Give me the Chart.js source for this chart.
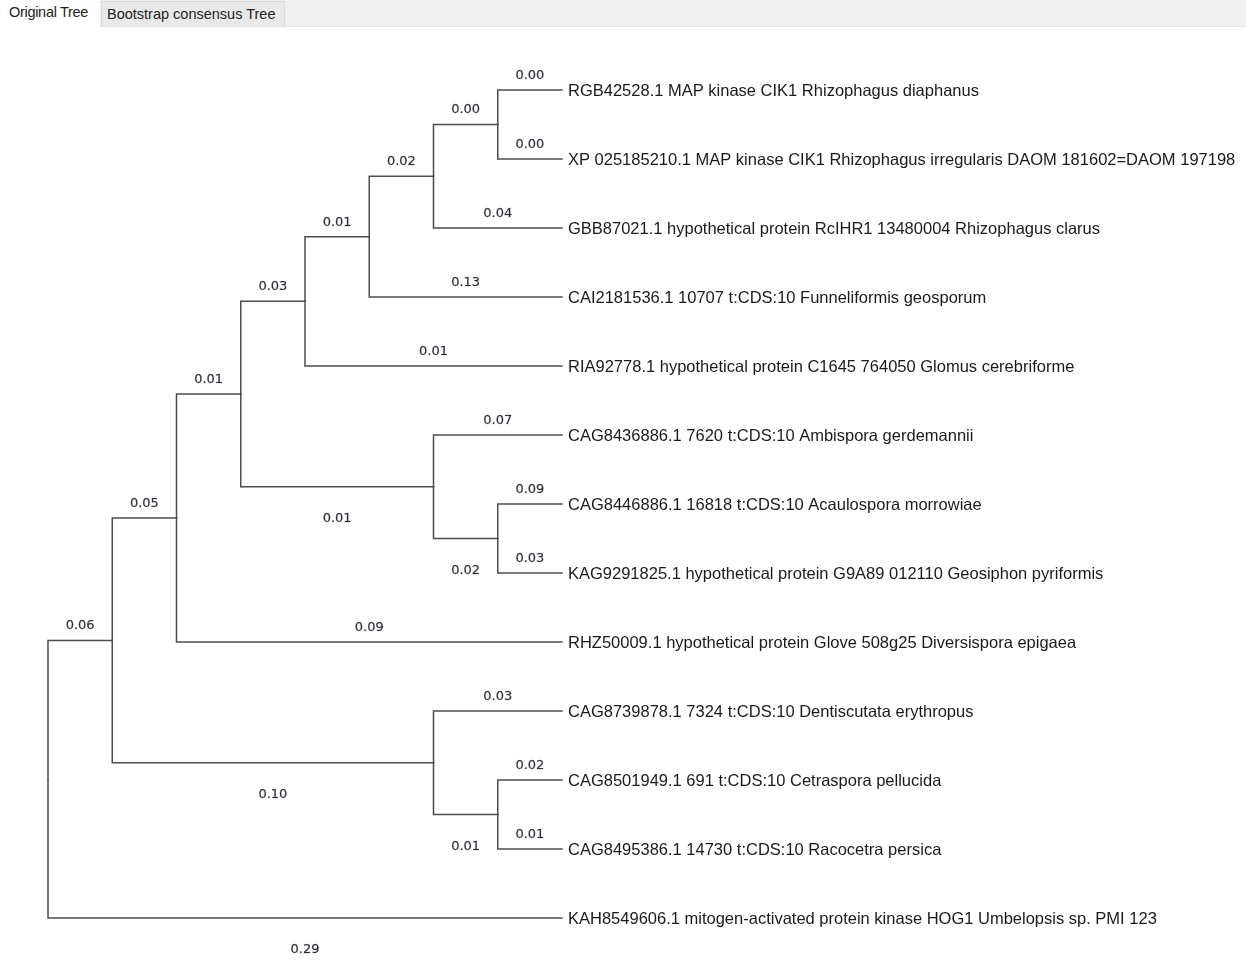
<!DOCTYPE html>
<html>
<head>
<meta charset="utf-8">
<script src="https://cdn.jsdelivr.net/npm/chart.js@4.4.1/dist/chart.umd.min.js"></script>
<style>
  html,body{margin:0;padding:0;background:#fff;}
  #wrap{position:relative;width:1246px;height:973px;overflow:hidden;}
  #tabs{position:absolute;left:0;top:0;width:1246px;height:26px;background:#f0f0f0;border-bottom:1px solid #e2e2e2;z-index:2;font-family:"Liberation Sans",Arial,sans-serif;font-size:14.5px;color:#222;}
  #tab1{position:absolute;left:0;top:0;width:100px;height:27px;background:#fff;}
  #tab1 span{position:absolute;left:9px;top:4px;letter-spacing:-0.3px;}
  #tab2{position:absolute;left:101px;top:1px;width:182px;height:24px;background:#e9e9e9;border:1px solid #d8d8d8;border-bottom:none;}
  #tab2 span{position:absolute;left:5px;top:4px;}
  canvas{position:absolute;left:0;top:0;}
</style>
</head>
<body>
<div id="wrap">
  <div id="tabs">
    <div id="tab1"><span>Original Tree</span></div>
    <div id="tab2"><span>Bootstrap consensus Tree</span></div>
  </div>
  <canvas id="c" width="1246" height="973"></canvas>
</div>
<script>
// ---- DATA ----
// Tip (leaf) labels, in drawing order top to bottom (node ids 0..12)
const taxa = [
  "RGB42528.1 MAP kinase CIK1 Rhizophagus diaphanus",
  "XP 025185210.1 MAP kinase CIK1 Rhizophagus irregularis DAOM 181602=DAOM 197198",
  "GBB87021.1 hypothetical protein RcIHR1 13480004 Rhizophagus clarus",
  "CAI2181536.1 10707 t:CDS:10 Funneliformis geosporum",
  "RIA92778.1 hypothetical protein C1645 764050 Glomus cerebriforme",
  "CAG8436886.1 7620 t:CDS:10 Ambispora gerdemannii",
  "CAG8446886.1 16818 t:CDS:10 Acaulospora morrowiae",
  "KAG9291825.1 hypothetical protein G9A89 012110 Geosiphon pyriformis",
  "RHZ50009.1 hypothetical protein Glove 508g25 Diversispora epigaea",
  "CAG8739878.1 7324 t:CDS:10 Dentiscutata erythropus",
  "CAG8501949.1 691 t:CDS:10 Cetraspora pellucida",
  "CAG8495386.1 14730 t:CDS:10 Racocetra persica",
  "KAH8549606.1 mitogen-activated protein kinase HOG1 Umbelopsis sp. PMI 123"
];
// Internal nodes (ids 13..24): their two children
const cladeChildren = [
  [0, 1],    // 13
  [13, 2],   // 14
  [14, 3],   // 15
  [15, 4],   // 16
  [6, 7],    // 17
  [5, 17],   // 18
  [16, 18],  // 19
  [19, 8],   // 20
  [10, 11],  // 21
  [9, 21],   // 22
  [20, 22],  // 23
  [23, 12]   // 24 root
];
// Branch length labels per node id (0..23); root has none
const branchLengths = [
  "0.00","0.00","0.04","0.13","0.01","0.07","0.09","0.03","0.09","0.03","0.02","0.01","0.29",
  "0.00","0.02","0.01","0.03","0.02","0.01","0.01","0.05","0.01","0.10","0.06"
];
// ---- STYLE ----
const labelBelowNodes = [12, 17, 18, 21, 22];
const LINE_COLOR = "#4d4d4d";
const TIP_FONT = '16.5px "Liberation Sans", Arial, sans-serif';
const BL_FONT = '13px "DejaVu Sans", Tahoma, sans-serif';

// ---- Build tree geometry from topology (cladogram layout) ----
const nTips = taxa.length;
const nNodes = nTips + cladeChildren.length;
const rootId = nNodes - 1;
const parent = new Array(nNodes).fill(-1);
const height = new Array(nNodes).fill(0);
const ypos = new Array(nNodes).fill(0);
for (let i = 0; i < nTips; i++) ypos[i] = i;
cladeChildren.forEach((ch, k) => {
  const id = nTips + k;
  ch.forEach(c => parent[c] = id);
  height[id] = Math.max(...ch.map(c => height[c])) + 1;
  ypos[id] = ch.reduce((s, c) => s + ypos[c], 0) / ch.length;
});
const maxH = height[rootId];
const xpos = height.map(h => maxH - h);

const datasets = [];
for (let id = 0; id < nNodes; id++) {
  if (id === rootId) continue;
  const p = parent[id];
  datasets.push({
    data: [{x: xpos[p], y: ypos[p]}, {x: xpos[p], y: ypos[id]}, {x: xpos[id], y: ypos[id]}],
    showLine: true, borderColor: LINE_COLOR, borderWidth: 1.5, pointRadius: 0,
    tension: 0, fill: false, clip: false, borderCapStyle: 'square', borderJoinStyle: 'miter'
  });
}

const labelPlugin = {
  id: 'treeLabels',
  afterDatasetsDraw(chart) {
    const ctx = chart.ctx, xs = chart.scales.x, ys = chart.scales.y;
    ctx.save();
    // tip labels
    ctx.font = TIP_FONT; ctx.fillStyle = "#1a1a1a"; ctx.textAlign = "left"; ctx.textBaseline = "middle";
    for (let i = 0; i < nTips; i++) {
      ctx.fillText(taxa[i], xs.getPixelForValue(xpos[i]) + 6, ys.getPixelForValue(ypos[i]) + 1);
    }
    // branch length labels
    ctx.font = BL_FONT; ctx.fillStyle = "#2e2e38"; ctx.strokeStyle = "rgba(46,46,56,0.45)"; ctx.lineWidth = 0.4;
    ctx.textAlign = "center";
    for (let id = 0; id < nNodes; id++) {
      if (id === rootId) continue;
      const p = parent[id];
      const cx = (xs.getPixelForValue(xpos[p]) + xs.getPixelForValue(xpos[id])) / 2;
      const ly = ys.getPixelForValue(ypos[id]);
      const below = labelBelowNodes.includes(id);
      const ty = below ? ly + 32 : ly - 14.5;
      ctx.fillText(branchLengths[id], cx, ty);
      ctx.strokeText(branchLengths[id], cx, ty);
    }
    ctx.restore();
  }
};

new Chart(document.getElementById('c'), {
  type: 'scatter',
  data: { datasets },
  options: {
    responsive: false, animation: false, events: [],
    layout: { padding: { left: 48, right: 1246 - 562, top: 90, bottom: 973 - 918 } },
    scales: {
      x: { type: 'linear', display: false, min: 0, max: maxH },
      y: { type: 'linear', display: false, min: 0, max: nTips - 1, reverse: true }
    },
    plugins: { legend: { display: false }, tooltip: { enabled: false } }
  },
  plugins: [labelPlugin]
});
</script>
</body>
</html>
